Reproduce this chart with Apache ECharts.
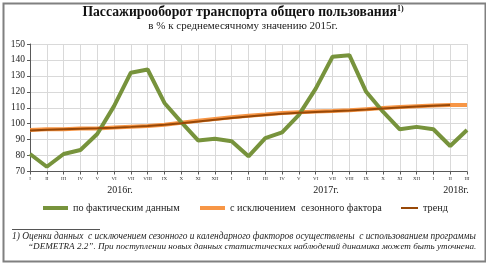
<!DOCTYPE html>
<html>
<head>
<meta charset="utf-8">
<script src="https://cdn.jsdelivr.net/npm/echarts@6/dist/echarts.min.js"></script>
<style>
  html, body { margin: 0; padding: 0; background: #fff; }
  #chart { width: 486px; height: 263px; }
</style>
</head>
<body>
<div id="chart"></div>
<script>
const months = ['I', 'II', 'III', 'IV', 'V', 'VI', 'VII', 'VIII', 'IX', 'X', 'XI', 'XII',
  'I ', 'II ', 'III ', 'IV ', 'V ', 'VI ', 'VII ', 'VIII ', 'IX ', 'X ', 'XI ', 'XII ',
  'I  ', 'II  ', 'III  ']

// по фактическим данным
const actual = [81, 73, 81, 83.5, 93.5, 111, 132, 134, 113, 101, 89.5, 90.5,
  89, 79.5, 91, 94.5, 105.5, 122, 142, 143, 120, 107.5, 96.5, 98, 96.5, 86, 96]

// с исключением сезонного фактора
const seasonal = [96, 96.5, 96.5, 97, 97, 97.6, 98.1, 98.6, 99.4, 100.6, 101.8, 103,
  104.1, 105, 105.8, 106.7, 107.2, 107.7, 108, 108.4, 109.1, 109.8, 110.4, 110.9,
  111.4, 111.7, 111.7]

// тренд
const trend = [95.8, 96.2, 96.5, 96.8, 97.1, 97.5, 98, 98.6, 99.3, 100.3, 101.4, 102.5,
  103.6, 104.5, 105.4, 106.2, 106.9, 107.4, 107.8, 108.3, 108.9, 109.6, 110.2, 110.8,
  111.3, 111.7]

const yearLabels = ['2016г.', '2017г.', '2018г.']

const chart = echarts.init(document.getElementById('chart'))
const serif = '"Liberation Serif", "DejaVu Serif", serif'
const legendText = { fontSize: 10.2, color: '#222', fontFamily: serif }

const option = {
  animation: false,
  textStyle: { fontFamily: serif },
  grid: { left: 30, right: 19, top: 44, bottom: 91.5 },
  xAxis: {
    type: 'category',
    data: months,
    boundaryGap: false,
    axisLine: { lineStyle: { color: '#595959', width: 1 } },
    axisTick: { show: true, length: 3, lineStyle: { color: '#595959' } },
    axisLabel: { fontSize: 5, color: '#333', margin: 5, interval: 0, formatter: v => v.trim() },
    splitLine: { show: true, lineStyle: { color: '#d9d9d9', width: 1 } }
  },
  yAxis: {
    type: 'value',
    min: 70,
    max: 150,
    interval: 10,
    axisLine: { show: true, lineStyle: { color: '#595959' } },
    axisTick: { show: true, length: 3, lineStyle: { color: '#595959' } },
    axisLabel: { fontSize: 9.5, color: '#222', margin: 5 },
    splitLine: { lineStyle: { color: '#d9d9d9', width: 1 } }
  },
  legend: [
    {
      data: [{ name: 'по фактическим данным', icon: 'rect' }],
      left: 38, top: 198, itemWidth: 25, itemHeight: 4, itemGap: 0,
      textStyle: legendText
    },
    {
      data: [{ name: 'с исключением  сезонного фактора', icon: 'rect' }],
      left: 195, top: 198, itemWidth: 25, itemHeight: 4,
      textStyle: legendText
    },
    {
      data: [{ name: 'тренд', icon: 'rect' }],
      left: 396, top: 198, itemWidth: 17, itemHeight: 2,
      textStyle: legendText
    }
  ],
  series: [
    {
      name: 'по фактическим данным',
      type: 'line',
      data: actual,
      symbol: 'none',
      lineStyle: { color: '#77933c', width: 4 },
      itemStyle: { color: '#77933c' },
      z: 3
    },
    {
      name: 'с исключением  сезонного фактора',
      type: 'line',
      data: seasonal,
      symbol: 'none',
      lineStyle: { color: '#f79646', width: 4 },
      itemStyle: { color: '#f79646' },
      z: 2
    },
    {
      name: 'тренд',
      type: 'line',
      data: trend,
      symbol: 'none',
      lineStyle: { color: '#984807', width: 2 },
      itemStyle: { color: '#984807' },
      z: 4
    }
  ],
  graphic: [
    {
      type: 'rect', left: 1, top: 1, z: 0,
      shape: { width: 482, height: 258 },
      style: { fill: 'none', stroke: '#808080', lineWidth: 2 }
    },
    {
      type: 'text', left: 'center', top: 5,
      style: {
        text: '{t|Пассажирооборот транспорта общего пользования}{s|1)}',
        rich: {
          t: { fontSize: 13.7, fontWeight: 'bold', fontFamily: serif, fill: '#111' },
          s: { fontSize: 8, fontWeight: 'bold', fontFamily: serif, fill: '#111', verticalAlign: 'top', padding: [0, 0, 6, 0] }
        }
      }
    },
    {
      type: 'text', left: 'center', top: 20.5,
      style: { text: 'в % к среднемесячному значению 2015г.', fontSize: 11, fontFamily: serif, fill: '#222' }
    },
    {
      type: 'text', x: 120, y: 185,
      style: { text: yearLabels[0], fontSize: 10, fontFamily: serif, fill: '#222', align: 'center' }
    },
    {
      type: 'text', x: 326, y: 185,
      style: { text: yearLabels[1], fontSize: 10, fontFamily: serif, fill: '#222', align: 'center' }
    },
    {
      type: 'text', x: 456, y: 185,
      style: { text: yearLabels[2], fontSize: 10, fontFamily: serif, fill: '#222', align: 'center' }
    },
    {
      type: 'line', shape: { x1: 12, y1: 229.5, x2: 100, y2: 229.5 },
      style: { stroke: '#555', lineWidth: 1 }
    },
    {
      type: 'text', x: 12, y: 232,
      style: {
        text: '1) Оценки данных  с исключением сезонного и календарного факторов осуществлены  с использованием программы',
        fontSize: 9.4, fontStyle: 'italic', fontFamily: serif, fill: '#222'
      }
    },
    {
      type: 'text', x: 28, y: 242,
      style: {
        text: '“DEMETRA 2.2”. При поступлении новых данных статистических наблюдений динамика может быть уточнена.',
        fontSize: 9.15, fontStyle: 'italic', fontFamily: serif, fill: '#222'
      }
    }
  ]
}

chart.setOption(option)
</script>
</body>
</html>
